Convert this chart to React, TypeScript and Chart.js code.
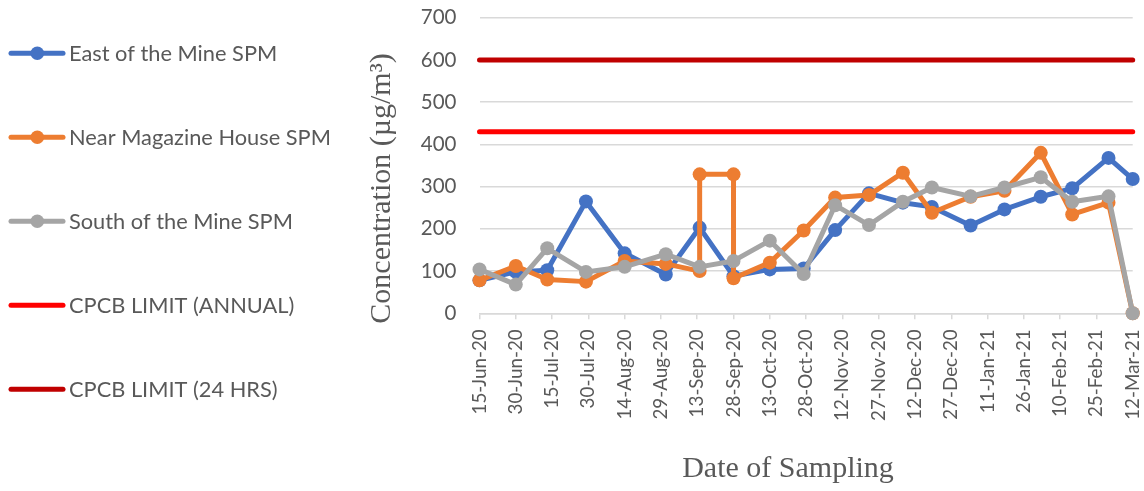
import React, { useEffect, useRef } from "react";
import { Chart, registerables } from "chart.js";

Chart.register(...registerables);

// ---------- data ----------
const tickDates = [
  "15-Jun-20", "30-Jun-20", "15-Jul-20", "30-Jul-20", "14-Aug-20", "29-Aug-20",
  "13-Sep-20", "28-Sep-20", "13-Oct-20", "28-Oct-20", "12-Nov-20", "27-Nov-20",
  "12-Dec-20", "27-Dec-20", "11-Jan-21", "26-Jan-21", "10-Feb-21", "25-Feb-21",
  "12-Mar-21",
];

const sampleDates = [
  "15-Jun-20", "30-Jun-20", "13-Jul-20", "29-Jul-20", "14-Aug-20", "31-Aug-20",
  "14-Sep-20", "14-Sep-20", "28-Sep-20", "28-Sep-20", "13-Oct-20", "27-Oct-20",
  "9-Nov-20", "23-Nov-20", "7-Dec-20", "19-Dec-20", "4-Jan-21", "18-Jan-21",
  "2-Feb-21", "15-Feb-21", "2-Mar-21", "12-Mar-21",
];

const eastOfMine = [78, 98, 102, 265, 142, 92, 203, null, null, 88, 104, 106, 197, 284, 262, 252, 208, 246, 276, 296, 368, 318];
const nearMagazine = [78, 112, 80, 75, 124, 117, 100, 329, 329, 83, 120, 196, 274, 280, 333, 238, 276, 290, 380, 234, 262, 0];
const southOfMine = [104, 68, 154, 98, 110, 140, 110, null, null, 124, 172, 93, 256, 209, 264, 298, 277, 298, 322, 264, 277, 0];

const annualLimit = 430;
const dailyLimit = 600;

const seriesNames = [
  "East of the Mine SPM",
  "Near Magazine House SPM",
  "South of the Mine SPM",
  "CPCB LIMIT (ANNUAL)",
  "CPCB LIMIT (24 HRS)",
];
const seriesColors = ["#4472C4", "#ED7D31", "#A5A5A5", "#FF0000", "#C00000"];

const yTitle = "Concentration (µg/m³)";
const xTitle = "Date of Sampling";

// ---------- helpers ----------
const MONTHS = ["Jan", "Feb", "Mar", "Apr", "May", "Jun", "Jul", "Aug", "Sep", "Oct", "Nov", "Dec"];
function toUTC(s: string) {
  const [d, m, y] = s.split("-");
  return Date.UTC(2000 + Number(y), MONTHS.indexOf(m), Number(d));
}
const origin = toUTC(tickDates[0]);
function dayOf(s: string) {
  return Math.round((toUTC(s) - origin) / 86400000);
}

const TEXT = "#595959";
const SANS = "Lato";
const SERIF = "'Liberation Serif', 'Times New Roman', serif";

const sideDecor = {
  id: "sideDecor",
  afterDraw(chart: any) {
    const ctx = chart.ctx as CanvasRenderingContext2D;
    ctx.save();
    // legend
    chart.data.datasets.forEach((ds: any, i: number) => {
      const y = 53.3 + i * 84;
      ctx.strokeStyle = ds.borderColor;
      ctx.lineWidth = 5;
      ctx.lineCap = "round";
      ctx.beginPath();
      ctx.moveTo(11, y);
      ctx.lineTo(63, y);
      ctx.stroke();
      if (ds.pointRadius > 0) {
        ctx.fillStyle = ds.borderColor;
        ctx.beginPath();
        ctx.arc(37.3, y, 6.8, 0, Math.PI * 2);
        ctx.fill();
      }
      ctx.fillStyle = TEXT;
      ctx.font = `21.8px ${SANS}`;
      ctx.textAlign = "left";
      ctx.textBaseline = "middle";
      ctx.fillText(ds.label, 69, y + 1);
    });
    // y title
    ctx.fillStyle = TEXT;
    ctx.font = `30px ${SERIF}`;
    ctx.textAlign = "center";
    ctx.textBaseline = "alphabetic";
    ctx.save();
    ctx.translate(390, 188.5);
    ctx.rotate(-Math.PI / 2);
    ctx.fillText(yTitle, 0, 0);
    ctx.restore();
    // x title
    ctx.fillText(xTitle, 788, 476.7);
    ctx.restore();
  },
};

export default function App() {
  const ref = useRef<HTMLCanvasElement | null>(null);

  useEffect(() => {
    if (!ref.current) return;
    const xs = sampleDates.map(dayOf);
    const series = [eastOfMine, nearMagazine, southOfMine];
    const xMin = dayOf(tickDates[0]);
    const xMax = dayOf(tickDates[tickDates.length - 1]);

    const datasets: any[] = series.map((vals, i) => ({
      label: seriesNames[i],
      data: vals.map((v, j) => ({ x: xs[j], y: v })),
      borderColor: seriesColors[i],
      backgroundColor: seriesColors[i],
      borderWidth: 5,
      pointRadius: 7,
      pointBorderWidth: 0,
      pointHoverRadius: 7,
      spanGaps: true,
      tension: 0,
      clip: false,
      order: 3 - i,
      borderJoinStyle: "round",
    }));
    [annualLimit, dailyLimit].forEach((lim, k) => {
      datasets.push({
        label: seriesNames[3 + k],
        data: [
          { x: xMin, y: lim },
          { x: xMax, y: lim },
        ],
        borderColor: seriesColors[3 + k],
        backgroundColor: seriesColors[3 + k],
        borderWidth: 5,
        pointRadius: 0,
        borderCapStyle: "round",
        clip: false,
        order: 5 + k,
      });
    });

    const chart = new Chart(ref.current, {
      type: "line",
      data: { datasets },
      options: {
        responsive: false,
        animation: false,
        devicePixelRatio: 1,
        layout: { padding: { left: 419.5, right: 11.3, top: 17.7, bottom: 0 } },
        plugins: { legend: { display: false }, tooltip: { enabled: false } },
        scales: {
          x: {
            type: "linear",
            min: xMin,
            max: xMax,
            afterBuildTicks: (axis: any) => {
              axis.ticks = tickDates.map((d) => ({ value: dayOf(d) }));
            },
            afterFit: (axis: any) => {
              axis.height = 177.7;
              axis.paddingLeft = 0;
              axis.paddingRight = 0;
            },
            ticks: {
              autoSkip: false,
              minRotation: 90,
              maxRotation: 90,
              padding: 10,
              color: TEXT,
              font: { family: SANS, size: 18.8 },
              callback: (_v: any, i: number) => tickDates[i],
            },
            grid: {
              drawOnChartArea: false,
              drawTicks: true,
              tickLength: 6,
              color: "#D9D9D9",
              lineWidth: 1.5,
            },
            border: { display: true, color: "#D9D9D9", width: 1.5 },
          },
          y: {
            min: 0,
            max: 700,
            afterFit: (axis: any) => {
              axis.width = 60;
              axis.paddingTop = 0;
              axis.paddingBottom = 0;
            },
            ticks: {
              stepSize: 100,
              padding: 23,
              color: TEXT,
              font: { family: SANS, size: 20.5 },
            },
            grid: { color: "#D9D9D9", lineWidth: 1.5, drawTicks: false },
            border: { display: false },
          },
        },
      },
      plugins: [sideDecor],
    });
    return () => chart.destroy();
  }, []);

  return (
    <div style={{ position: "absolute", left: 0, top: 0, width: 1144, height: 491, background: "#fff" }}>
      <canvas ref={ref} width={1144} height={491} style={{ display: "block", width: 1144, height: 491 }} />
    </div>
  );
}
